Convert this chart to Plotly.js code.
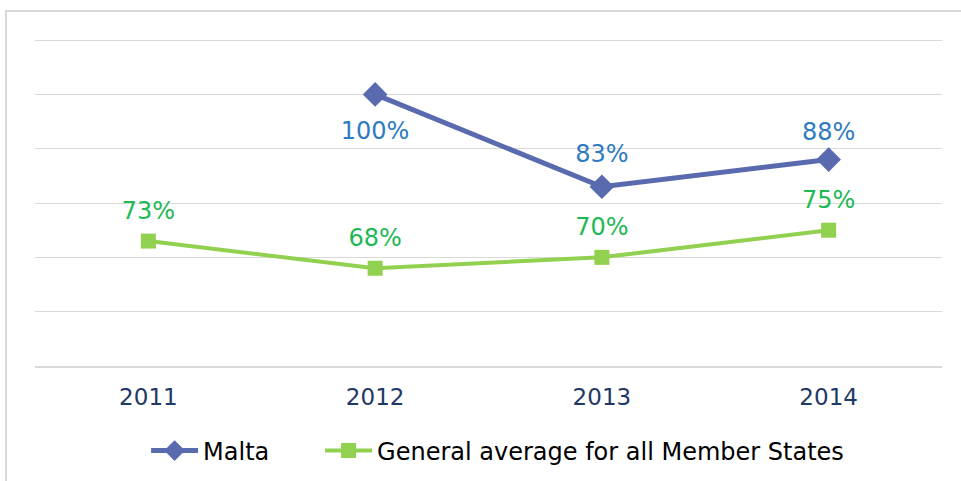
<!DOCTYPE html>
<html>
<head>
<meta charset="utf-8">
<script src="https://cdn.plot.ly/plotly-3.0.1.min.js"></script>
<style>
html,body{margin:0;padding:0;background:#fff;overflow:hidden;}
#frame{position:absolute;left:5px;top:10px;width:1200px;height:800px;border-top:2px solid #d9d9d9;border-left:2px solid #d9d9d9;}
#chart{position:absolute;left:0;top:0;width:961px;height:481px;}
</style>
</head>
<body>
<div id="frame"></div>
<div id="chart"></div>
<script>
const years = ['2011', '2012', '2013', '2014'];
const maltaValues = [null, 100, 83, 88];
const maltaLabels = ['', '100%', '83%', '88%'];
const maltaLabelPos = ['top center', 'bottom center', 'top center', 'top center'];
const avgValues = [73, 68, 70, 75];
const avgLabels = ['73%', '68%', '70%', '75%'];
const seriesNames = ['Malta', 'General average for all Member States'];

// spacing of the value labels from their points (invisible marker sizes)
const maltaLabelGap = [20, 41, 28, 20];
const avgLabelGap = [24, 24, 24, 24];

const font = '"DejaVu Sans", Verdana, sans-serif';
const maltaColor = '#5A6AAF';
const avgColor = '#92D050';
const maltaLabelColor = '#2E7BC0';
const avgLabelColor = '#1DB954';
const clear = 'rgba(0,0,0,0)';

const traces = [
  {
    x: years, y: maltaValues, name: seriesNames[0], type: 'scatter', mode: 'lines+markers',
    line: {color: maltaColor, width: 5},
    marker: {symbol: 'diamond', size: 19, color: maltaColor},
    connectgaps: false, cliponaxis: false, legend: 'legend'
  },
  {
    x: years, y: avgValues, name: seriesNames[1], type: 'scatter', mode: 'lines+markers',
    line: {color: avgColor, width: 4},
    marker: {symbol: 'square', size: 15, color: avgColor},
    cliponaxis: false, legend: 'legend2'
  },
  {
    x: years, y: maltaValues, type: 'scatter', mode: 'markers+text', showlegend: false,
    marker: {size: maltaLabelGap, color: clear, opacity: 0, line: {width: 0}},
    text: maltaLabels, textposition: maltaLabelPos,
    textfont: {color: maltaLabelColor, size: 24, family: font},
    cliponaxis: false
  },
  {
    x: years, y: avgValues, type: 'scatter', mode: 'markers+text', showlegend: false,
    marker: {size: avgLabelGap, color: clear, opacity: 0, line: {width: 0}},
    text: avgLabels, textposition: 'top center',
    textfont: {color: avgLabelColor, size: 24, family: font},
    cliponaxis: false
  }
];

const legendBase = {
  orientation: 'h', xref: 'paper', xanchor: 'left',
  yref: 'container', y: 0.0624, yanchor: 'middle',
  font: {family: font, size: 24, color: '#000'}, itemwidth: 47, bgcolor: clear
};

const layout = {
  width: 961, height: 481,
  margin: {l: 35, r: 19, t: 39, b: 115},
  paper_bgcolor: clear,
  plot_bgcolor: clear,
  font: {family: font, size: 23, color: '#000'},
  xaxis: {
    type: 'category', range: [-0.5, 3.5], showgrid: false, zeroline: false,
    showline: true, linecolor: '#d9d9d9', linewidth: 2,
    ticks: '', tickfont: {color: '#1F3864', size: 23, family: font}, ticklabelstandoff: 9
  },
  yaxis: {
    range: [50, 110.2], tick0: 50, dtick: 10, showticklabels: false, gridcolor: '#d9d9d9', gridwidth: 1,
    zeroline: false, showline: false, ticks: ''
  },
  showlegend: true,
  legend: Object.assign({}, legendBase, {x: 0.1225}),
  legend2: Object.assign({}, legendBase, {x: 0.3143})
};

Plotly.newPlot('chart', traces, layout, {staticPlot: true});
</script>
</body>
</html>
